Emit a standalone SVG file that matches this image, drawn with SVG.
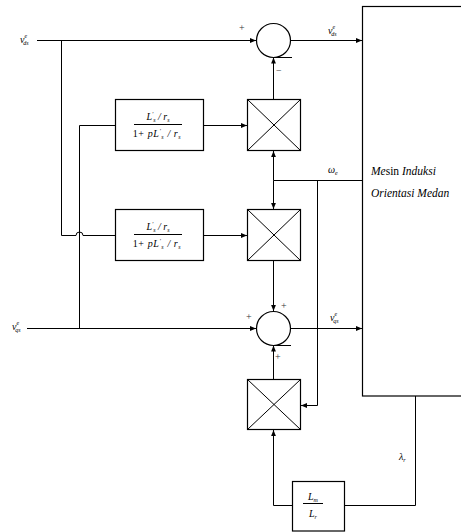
<svg xmlns="http://www.w3.org/2000/svg" width="461" height="532" viewBox="0 0 461 532">
<defs>
<style>
.ln{stroke:#000;stroke-width:1;fill:none}
.bx{stroke:#000;stroke-width:1.2;fill:none}
.t{font-family:"Liberation Serif",serif;font-style:italic;font-size:10px;fill:#000}
.big{font-size:11.5px}
.s{font-size:6px}
.pm{font-family:"Liberation Serif",serif;font-size:10px;fill:#333}
</style>
<marker id="ar" markerWidth="6" markerHeight="6" refX="6" refY="3" orient="auto" markerUnits="userSpaceOnUse"><path d="M0,0.6 L6,3 L0,5.4 z" fill="#000"/></marker>
</defs>
<rect width="461" height="532" fill="#fff"/>

<g id="machine">
<rect class="bx" x="362.5" y="6.5" width="100" height="389.5"/>
<text class="t big" x="371" y="175"><tspan>Me</tspan><tspan font-style="normal">sin</tspan> Induksi</text>
<text class="t big" x="371" y="197">Orientasi Medan</text>
</g>

<g id="sum1">
<circle class="bx" cx="273.5" cy="40.5" r="17"/>
<path class="ln" d="M273,57.5 H292"/>
<text class="pm" x="239" y="31">+</text>
<text class="pm" x="276" y="74">−</text>
</g>

<g id="sum2">
<circle class="bx" cx="273.5" cy="328.5" r="17"/>
<path class="ln" d="M273,345.5 H291"/>
<text class="pm" x="246" y="320">+</text>
<text class="pm" x="281" y="309">+</text>
<text class="pm" x="275" y="360">+</text>
</g>

<g id="block1">
<rect class="bx" x="115.5" y="99.5" width="88" height="51"/>
<text class="t" x="158" y="120" text-anchor="middle">L<tspan class="s" dy="-4">′</tspan><tspan class="s" dy="6">s</tspan><tspan dy="-2"> / r</tspan><tspan class="s" dy="2">s</tspan></text>
<path class="ln" d="M134,124.5 H182"/>
<text class="t" x="157" y="137" text-anchor="middle" letter-spacing="0.6"><tspan font-style="normal">1+ </tspan>pL<tspan class="s" dy="-4">′</tspan><tspan class="s" dy="6">s</tspan><tspan dy="-2"> / r</tspan><tspan class="s" dy="2">s</tspan></text>
</g>

<g id="block2">
<rect class="bx" x="115.5" y="209.5" width="88" height="51"/>
<text class="t" x="158" y="230" text-anchor="middle">L<tspan class="s" dy="-4">′</tspan><tspan class="s" dy="6">s</tspan><tspan dy="-2"> / r</tspan><tspan class="s" dy="2">s</tspan></text>
<path class="ln" d="M134,234.5 H182"/>
<text class="t" x="157" y="247" text-anchor="middle" letter-spacing="0.6"><tspan font-style="normal">1+ </tspan>pL<tspan class="s" dy="-4">′</tspan><tspan class="s" dy="6">s</tspan><tspan dy="-2"> / r</tspan><tspan class="s" dy="2">s</tspan></text>
</g>

<g id="mult1">
<rect class="bx" x="247.5" y="99.5" width="53" height="51"/>
<path class="ln" d="M247.5,99.5 L300.5,150.5 M300.5,99.5 L247.5,150.5"/>
</g>
<g id="mult2">
<rect class="bx" x="247.5" y="209.5" width="53" height="51"/>
<path class="ln" d="M247.5,209.5 L300.5,260.5 M300.5,209.5 L247.5,260.5"/>
</g>
<g id="mult3">
<rect class="bx" x="247.5" y="379.5" width="53" height="50"/>
<path class="ln" d="M247.5,379.5 L300.5,429.5 M300.5,379.5 L247.5,429.5"/>
</g>

<g id="gain">
<rect class="bx" x="292.5" y="481.5" width="52" height="49.5"/>
<text class="t" x="313" y="500" text-anchor="middle">L<tspan class="s" dy="2">m</tspan></text>
<path class="ln" d="M303,503.5 H323"/>
<text class="t" x="313" y="517" text-anchor="middle">L<tspan class="s" dy="2">r</tspan></text>
</g>

<g id="labels">
<text class="t" x="20" y="43">v<tspan class="s" dy="-5">e</tspan><tspan class="s" dx="-4" dy="7">ds</tspan></text>
<text class="t" x="12" y="330">v<tspan class="s" dy="-5">e</tspan><tspan class="s" dx="-4" dy="7">qs</tspan></text>
<text class="t" x="328" y="34">v<tspan class="s" dy="-5">e</tspan><tspan class="s" dx="-4" dy="7">ds</tspan></text>
<text class="t" x="330" y="321">v<tspan class="s" dy="-5">e</tspan><tspan class="s" dx="-4" dy="7">qs</tspan></text>
<text class="t" x="328" y="173">ω<tspan class="s" dy="2">e</tspan></text>
<text class="t" x="399" y="460">λ<tspan class="s" dy="2">r</tspan></text>
</g>

<g id="connectors">
<path class="ln" d="M37,40.5 H256" marker-end="url(#ar)"/>
<path class="ln" d="M61.5,40.5 V235.5 H76 a3.5,3.5 0 0 1 7,0 H115"/>
<path class="ln" d="M115,125.5 H79.5 V328.5"/>
<path class="ln" d="M27,328.5 H256" marker-end="url(#ar)"/>
<path class="ln" d="M203,125.5 H247" marker-end="url(#ar)"/>
<path class="ln" d="M203,235.5 H247" marker-end="url(#ar)"/>
<path class="ln" d="M273.5,99 V57.5" marker-end="url(#ar)"/>
<path class="ln" d="M362,180.5 H273.5 V151" marker-end="url(#ar)"/>
<path class="ln" d="M273.5,180.5 V209" marker-end="url(#ar)"/>
<path class="ln" d="M317.5,180.5 V405.5 H301" marker-end="url(#ar)"/>
<path class="ln" d="M273.5,261 V311" marker-end="url(#ar)"/>
<path class="ln" d="M273.5,379 V345.5" marker-end="url(#ar)"/>
<path class="ln" d="M291,40.5 H362" marker-end="url(#ar)"/>
<path class="ln" d="M291,328.5 H362" marker-end="url(#ar)"/>
<path class="ln" d="M415.5,396 V505.5 H344.5"/>
<path class="ln" d="M292,505.5 H273.5 V430" marker-end="url(#ar)"/>
</g>
</svg>
